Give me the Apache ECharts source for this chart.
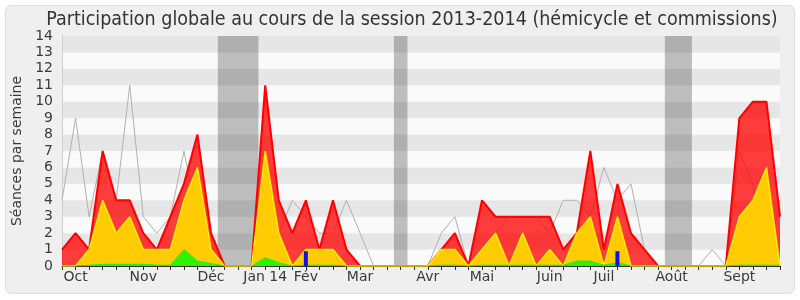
<!DOCTYPE html>
<html>
<head>
<meta charset="utf-8">
<script src="https://cdn.jsdelivr.net/npm/echarts@6/dist/echarts.min.js"></script>
<style>
html,body{margin:0;padding:0;background:#ffffff;}
#chart{width:800px;height:300px;}
</style>
</head>
<body>
<div id="chart"></div>
<script>
// Week index 0..53 (session weeks, late Sept 2013 -> end Sept 2014)
const presence = [1,2,1,7,4,4,2,1,3,5,8,2,0,0,0,11,4,2,4,1,4,1,0,0,0,0,0,0,1,2,0,4,3,3,3,3,3,1,2,7,1,5,2,1,0,0,0,0,0,0,9,10,10,3];
const commission = [0,0,1,4,2,3,1,1,1,4,6,1,0,0,0,7,2,0,1,1,1,0,0,0,0,0,0,0,1,1,0,1,2,0,2,0,1,0,2,3,0,3,0,0,0,0,0,0,0,0,3,4,6,0];
const hemicycle = [0,0,0.05,0.1,0.1,0.1,0.1,0.05,0.05,1,0.3,0.15,0,0,0,0.5,0.2,0,0.05,0.05,0.05,0,0,0,0,0,0,0,0.05,0.05,0,0.05,0.05,0.05,0.05,0.05,0.05,0.05,0.3,0.3,0.05,0.2,0,0,0,0,0,0,0,0,0.05,0.05,0.05,0.05];
const mediane = [4,9,3,7,4,11,3,2,3,7,3,1,0,0,0,0,2,4,3,2,2,4,2,0,0,0,0,0,2,3,0,1,2,3,3,3,2,4,4,3,6,4,5,1,0,0,0,0,1,0,7,5,0,4];
const questionsWeeks = [18, 41];
const questionsValues = [0.9, 0.9];
const vacances = [[11.5, 14.5], [24.5, 25.5], [44.5, 46.5]];
const monthLabels = ['Oct','Nov','Déc','Jan 14','Fév','Mar','Avr','Mai','Juin','Juil','Août','Sept'];
const monthWeeks = [1,6,11,15,18,22,27,31,36,40,45,50];
const yTicks = [0,1,2,3,4,5,6,7,8,9,10,11,12,13,14];

const labelAt = {};
monthWeeks.forEach((w, k) => { labelAt[w] = monthLabels[k]; });
const pts = arr => arr.map((v, i) => [i, v]);
const FONT = "'DejaVu Sans', sans-serif";

const chart = echarts.init(document.getElementById('chart'), null, {renderer: 'canvas'});
chart.setOption({
  animation: false,
  backgroundColor: '#ffffff',
  graphic: [{
    type: 'rect', z: -10, silent: true,
    shape: {x: 5.5, y: 5.5, width: 789, height: 288, r: 6},
    style: {fill: '#efefef', stroke: '#dedede', lineWidth: 1}
  }],
  title: {
    text: 'Participation globale au cours de la session 2013-2014 (hémicycle et commissions)',
    left: 407, top: 5, textAlign: 'center',
    textStyle: {fontFamily: "'DejaVu Sans Condensed', 'DejaVu Sans', sans-serif", fontSize: 19.5, fontWeight: 'normal', color: '#333'}
  },
  grid: {left: 62, right: 20, top: 36, bottom: 34, containLabel: false},
  xAxis: [{
    type: 'value', min: 0, max: 53, interval: 1, position: 'bottom',
    axisLine: {show: true, lineStyle: {color: '#333', width: 1}},
    axisTick: {show: true, length: 4, lineStyle: {color: '#333'}},
    axisLabel: {
      margin: 4, fontFamily: FONT, fontSize: 14, color: '#3a3a3a',
      formatter: v => labelAt[v] || '', showMinLabel: true, showMaxLabel: true
    },
    splitLine: {show: false}
  }, {
    type: 'value', min: 0, max: 53, interval: 1, position: 'top',
    axisLine: {show: false},
    axisTick: {show: true, inside: true, length: 2, lineStyle: {color: '#222'}},
    axisLabel: {show: false},
    splitLine: {show: false}
  }],
  yAxis: [{
    type: 'value', min: yTicks[0], max: yTicks[yTicks.length - 1], interval: 1,
    name: 'Séances par semaine', nameLocation: 'middle', nameGap: 36,
    nameTextStyle: {fontFamily: FONT, fontSize: 14, color: '#3a3a3a'},
    axisLine: {show: true, lineStyle: {color: '#555'}},
    axisTick: {show: false},
    axisLabel: {margin: 9, fontFamily: FONT, fontSize: 14, color: '#3a3a3a'},
    splitLine: {show: false},
    splitArea: {show: true, areaStyle: {color: ['#fafafa', '#e6e6e6']}}
  }, {
    type: 'value', min: 0, max: 14, interval: 1, position: 'right',
    axisLine: {show: true, lineStyle: {color: '#cfcfcf'}},
    axisTick: {show: false}, axisLabel: {show: false}, splitLine: {show: false}
  }],
  series: [{
    name: 'Médiane', type: 'line', data: pts(mediane), symbol: 'none', z: 1,
    lineStyle: {color: '#b0b0b0', width: 1},
    markArea: {
      silent: true,
      itemStyle: {color: 'rgba(50,50,50,0.3)'},
      data: vacances.map(v => [{xAxis: v[0]}, {xAxis: v[1]}])
    }
  }, {
    name: 'Présence', type: 'line', data: pts(presence), symbol: 'none', z: 2,
    lineStyle: {color: '#ff0000', width: 2},
    areaStyle: {color: 'rgba(255,0,0,0.76)', opacity: 1}
  }, {
    name: 'Commission', type: 'line', data: pts(commission), symbol: 'none', z: 3,
    lineStyle: {color: '#ffee00', width: 1.5},
    areaStyle: {color: 'rgba(255,215,0,0.93)', opacity: 1}
  }, {
    name: 'Hémicycle', type: 'line', data: pts(hemicycle), symbol: 'none', z: 4,
    lineStyle: {color: '#22ee00', width: 1},
    areaStyle: {color: 'rgba(40,240,0,0.95)', opacity: 1}
  }, {
    name: 'Questions', type: 'bar', z: 5, barWidth: 4,
    data: questionsWeeks.map((w, k) => [w, questionsValues[k]]),
    itemStyle: {color: '#1010ee'}
  }]
});
</script>
</body>
</html>
